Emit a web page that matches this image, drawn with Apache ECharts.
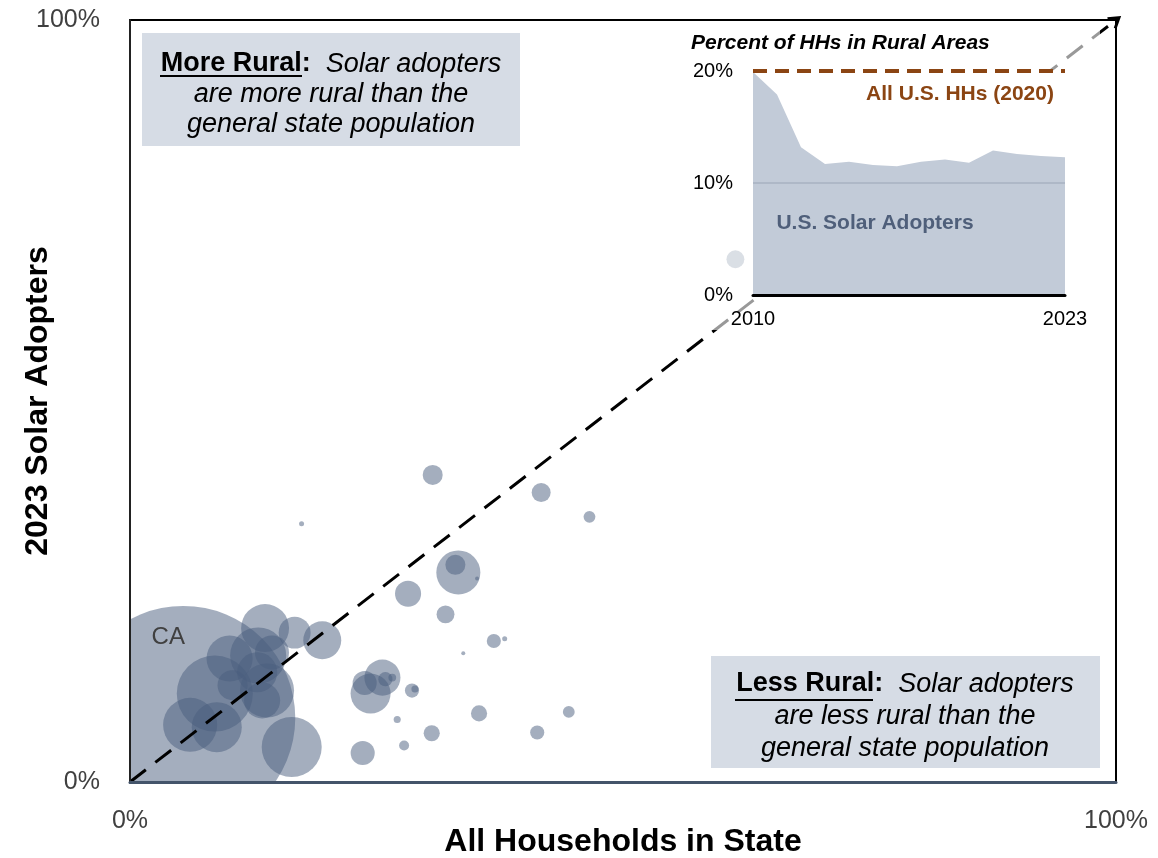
<!DOCTYPE html>
<html>
<head>
<meta charset="utf-8">
<title>Rural share of solar adopters vs all households</title>
<script src="https://cdn.jsdelivr.net/npm/echarts@6.0.0/dist/echarts.min.js"></script>
<style>
  html, body { margin: 0; padding: 0; background: #fff; }
  #main { width: 1158px; height: 858px; }
</style>
</head>
<body>
<div id="main"></div>
<script>
// 各州：全部住户中农村占比 (x) / 2023 光伏用户中农村占比 (y) / 气泡权重
const hhRural = [5.4, 13.7, 16.7, 19.5, 10.1, 13.0, 14.4, 8.6, 13.9, 10.4, 6.1, 8.8, 12.9, 13.4, 16.4,
  25.6, 23.8, 24.4, 25.9, 26.6, 28.6, 28.9, 27.1, 30.6, 27.8, 23.6,
  30.7, 41.7, 46.6, 17.4, 33.3, 33.0, 35.2, 28.2, 32.0, 36.9, 38.0, 33.8, 35.4, 44.5, 41.3, 61.4];
const solarRural = [8.4, 20.2, 19.6, 18.6, 16.2, 16.6, 17.0, 11.6, 12.0, 12.7, 7.5, 7.2, 14.4, 10.7, 4.6,
  13.7, 13.0, 11.6, 13.5, 13.7, 12.0, 12.2, 8.2, 6.4, 4.8, 3.8,
  40.3, 38.0, 34.8, 33.9, 27.5, 28.5, 26.7, 24.7, 22.0, 18.5, 18.8, 16.9, 9.0, 9.2, 6.5, 68.6];
const weight = [502, 23, 10.2, 14.4, 21.2, 31.4, 11.6, 57.8, 29.2, 9, 29.2, 25, 16, 13, 36,
  13, 5.8, 16, 2, 0.6, 2, 0.5, 0.5, 2.6, 1, 5.8,
  4, 3.6, 1.4, 0.25, 19.4, 4, 0.16, 6.8, 3.2, 2, 0.25, 0.16, 2.6, 1.4, 2, 3.2];
const stateLabels = ['CA'];

// 小图：美国光伏用户中农村住户占比
const years = ['2010', '2011', '2012', '2013', '2014', '2015', '2016', '2017', '2018', '2019', '2020', '2021', '2022', '2023'];
const solarRuralShare = [19.9, 17.9, 13.2, 11.7, 11.9, 11.6, 11.5, 11.9, 12.1, 11.8, 12.9, 12.6, 12.4, 12.3];
const allHHRuralShare = 20;
const insetGridLine = 10;

const FONT = 'Liberation Sans, Arial, sans-serif';
const ARROW = 'path://M5,0 L10,9 L8.2,10 L5,4.2 L1.8,10 L0,9 Z';

let chart = echarts.init(document.getElementById('main'));

let bubbles = hhRural.map((x, i) => [x, solarRural[i], weight[i], stateLabels[i] || '']);

let option = {
  animation: false,
  backgroundColor: '#fff',
  textStyle: { fontFamily: FONT },
  grid: [
    { left: 130, right: 42, top: 20, bottom: 76, containLabel: false, outerBoundsMode: 'none',
      show: true, borderColor: '#000', borderWidth: 2, backgroundColor: 'transparent' },
    { left: 753, right: 93, top: 71, height: 224, containLabel: false, outerBoundsMode: 'none' }
  ],
  xAxis: [
    {
      type: 'value', min: 0, max: 100, interval: 100, z: 9,
      axisLine: { lineStyle: { color: '#44546a', width: 3 } },
      axisTick: { show: false },
      splitLine: { show: false },
      axisLabel: { formatter: '{value}%', fontSize: 25, color: '#404040', margin: 27, fontFamily: FONT },
      name: 'All Households in State', nameLocation: 'middle', nameGap: 44, nameMoveOverlap: false,
      nameTextStyle: { fontSize: 32, fontWeight: 'bold', color: '#000', fontFamily: FONT }
    },
    {
      type: 'category', gridIndex: 1, data: years, boundaryGap: false, z: 20,
      axisLine: { lineStyle: { color: '#000', width: 3 } },
      axisTick: { show: false },
      splitLine: { show: false },
      axisLabel: {
        fontSize: 20, color: '#000', margin: 14, fontFamily: FONT,
        interval: (i) => i === 0 || i === years.length - 1
      }
    }
  ],
  yAxis: [
    {
      type: 'value', min: 0, max: 100, interval: 100, z: 9,
      axisLine: { lineStyle: { color: '#222', width: 2 } },
      axisTick: { show: false },
      splitLine: { show: false },
      axisLabel: { formatter: '{value}%', fontSize: 25, color: '#404040', margin: 30, fontFamily: FONT },
      name: '2023 Solar Adopters', nameLocation: 'middle', nameGap: 76, nameMoveOverlap: false,
      nameTextStyle: { fontSize: 32, fontWeight: 'bold', color: '#000', fontFamily: FONT }
    },
    {
      type: 'value', gridIndex: 1, min: 0, max: 20, interval: 10, z: 20,
      axisLine: { show: false },
      axisTick: { show: false },
      splitLine: { show: false },
      axisLabel: { formatter: '{value}%', fontSize: 20, color: '#000', margin: 20, fontFamily: FONT }
    }
  ],
  series: [
    {
      type: 'scatter',
      data: bubbles,
      symbolSize: (v) => Math.sqrt(v[2]) * 10,
      itemStyle: { color: 'rgba(74,93,126,0.5)', opacity: 1 },
      label: {
        show: true, position: 'inside', offset: [-15, -81],
        formatter: (p) => p.data[3],
        color: '#404040', fontSize: 24, fontFamily: FONT
      },
      markLine: {
        silent: true, z: 5,
        symbol: ['none', ARROW], symbolSize: [15, 13],
        label: { show: false },
        lineStyle: { color: '#000', width: 3, type: [20, 12] },
        data: [[{ coord: [0, 0] }, { coord: [100, 100] }]]
      }
    },
    {
      // 光伏用户农村占比面积
      type: 'line', xAxisIndex: 1, yAxisIndex: 1, z: 20,
      data: solarRuralShare,
      symbol: 'none',
      lineStyle: { width: 0 },
      areaStyle: { color: '#c2cbd8', opacity: 1 }
    },
    {
      // 10% 网格线
      type: 'line', xAxisIndex: 1, yAxisIndex: 1, z: 21,
      data: years.map(() => insetGridLine),
      symbol: 'none',
      lineStyle: { color: '#a8b2c1', width: 1.5 }
    },
    {
      // 全部住户 (2020)
      type: 'line', xAxisIndex: 1, yAxisIndex: 1, z: 22,
      data: years.map(() => allHHRuralShare),
      symbol: 'none',
      lineStyle: { color: '#8b4513', width: 4, type: [14, 8] }
    }
  ],
  graphic: [
    // 裁掉坐标区外的气泡
    { type: 'rect', z: 8, silent: true, shape: { x: 0, y: 0, width: 129, height: 858 }, style: { fill: '#fff' } },
    { type: 'rect', z: 8, silent: true, shape: { x: 0, y: 784, width: 1158, height: 74 }, style: { fill: '#fff' } },
    // 小图：半透明底 + 绘图区白底
    { type: 'rect', z: 10, silent: true, shape: { x: 685, y: 24, width: 415, height: 306 }, style: { fill: 'rgba(255,255,255,0.6)' } },
    { type: 'rect', z: 11, silent: true, shape: { x: 753, y: 71, width: 312, height: 224 }, style: { fill: '#fff' } },
    {
      type: 'text', z: 30, x: 691, y: 43,
      style: { text: 'Percent of HHs in Rural Areas', font: 'italic bold 21px ' + FONT, fill: '#000', align: 'left', verticalAlign: 'middle', textAlign: 'left', textVerticalAlign: 'middle' }
    },
    {
      type: 'text', z: 30, x: 960, y: 94,
      style: { text: 'All U.S. HHs (2020)', font: 'bold 21px ' + FONT, fill: '#8b4513', align: 'center', verticalAlign: 'middle', textAlign: 'center', textVerticalAlign: 'middle' }
    },
    {
      type: 'text', z: 30, x: 875, y: 223,
      style: { text: 'U.S. Solar Adopters', font: 'bold 21px ' + FONT, fill: '#4f5f7a', align: 'center', verticalAlign: 'middle', textAlign: 'center', textVerticalAlign: 'middle' }
    },
    // 左上说明框
    { type: 'rect', z: 30, shape: { x: 142, y: 33, width: 378, height: 113 }, style: { fill: '#d6dce5' } },
    {
      type: 'text', z: 31, x: 331, y: 94,
      style: {
        text: '{b|More Rural}{b|:}  {i|Solar adopters}\n{i|are more rural than the}\n{i|general state population}',
        font: '27px ' + FONT, fill: '#000',
        align: 'center', verticalAlign: 'middle', textAlign: 'center', textVerticalAlign: 'middle',
        rich: {
          b: { fontWeight: 'bold', fontSize: 27, fontFamily: FONT, lineHeight: 30 },
          i: { fontStyle: 'italic', fontSize: 27, fontFamily: FONT, lineHeight: 30 }
        }
      }
    },
    { type: 'line', z: 31, shape: { x1: 160, y1: 76, x2: 302, y2: 76 }, style: { stroke: '#000', lineWidth: 2 } },
    // 右下说明框
    { type: 'rect', z: 30, shape: { x: 711, y: 656, width: 389, height: 112 }, style: { fill: '#d6dce5' } },
    {
      type: 'text', z: 31, x: 905, y: 716,
      style: {
        text: '{b|Less Rural}{b|:}  {i|Solar adopters}\n{i|are less rural than the}\n{i|general state population}',
        font: '27px ' + FONT, fill: '#000',
        align: 'center', verticalAlign: 'middle', textAlign: 'center', textVerticalAlign: 'middle',
        rich: {
          b: { fontWeight: 'bold', fontSize: 27, fontFamily: FONT, lineHeight: 32 },
          i: { fontStyle: 'italic', fontSize: 27, fontFamily: FONT, lineHeight: 32 }
        }
      }
    },
    { type: 'line', z: 31, shape: { x1: 735, y1: 700, x2: 873, y2: 700 }, style: { stroke: '#000', lineWidth: 2 } }
  ]
};

chart.setOption(option);
</script>
</body>
</html>
